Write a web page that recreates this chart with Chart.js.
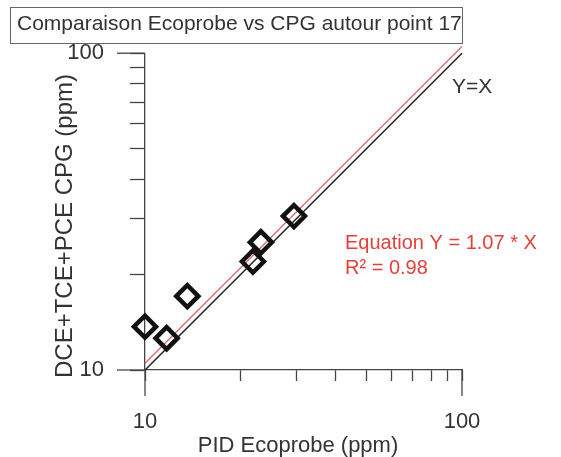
<!DOCTYPE html>
<html>
<head>
<meta charset="utf-8">
<script src="https://cdn.jsdelivr.net/npm/chart.js@4/dist/chart.umd.min.js"></script>
<style>
  html, body { margin: 0; padding: 0; background: #fff; }
  #wrap { width: 561px; height: 457px; }
</style>
</head>
<body>
<div id="wrap"><canvas id="chart" width="561" height="457"></canvas></div>
<script>
'use strict'

// measured points, PID Ecoprobe (x) vs DCE+TCE+PCE CPG (y), ppm
const pidValues = [10.0, 11.7, 13.6, 21.9, 23.2, 29.5]
const cpgValues = [13.7, 12.6, 17.1, 22.0, 25.3, 30.6]

// reference line Y=X and fitted line (as drawn in the picture)
const lineX = [10, 100]
const identityY = [10, 100]
const fitY = [10.5, 105]

// ticks of both log axes
const tickValues = [10, 20, 30, 40, 50, 60, 70, 80, 90, 100]
const majorTicks = [10, 100]
const tickLabels = ['10', '100']

const axisColor = '#444'
const textColor = '#333'
const red = '#e2403a'

const toPoints = (xs, ys) => xs.map((x, i) => ({ x: x, y: ys[i] }))

const setTicks = (scale) => {
  scale.ticks = tickValues.map(v => ({ value: v }))
}

const labelFor = (value) => {
  const i = majorTicks.indexOf(value)
  return i >= 0 ? tickLabels[i] : ''
}

// long major ticks, title box, axis titles and notes
const extras = {
  id: 'extras',
  afterDraw (chart) {
    const ctx = chart.ctx
    const x = chart.scales.x
    const y = chart.scales.y
    const area = chart.chartArea

    ctx.save()
    ctx.strokeStyle = axisColor
    ctx.lineWidth = 1.3
    majorTicks.forEach(v => {
      const px = x.getPixelForValue(v)
      ctx.beginPath()
      ctx.moveTo(px, area.bottom)
      ctx.lineTo(px, area.bottom + 26)
      ctx.stroke()
      const py = y.getPixelForValue(v)
      ctx.beginPath()
      ctx.moveTo(area.left, py)
      ctx.lineTo(area.left - 28, py)
      ctx.stroke()
    })

    // box round the title
    ctx.strokeStyle = '#666'
    ctx.lineWidth = 1
    ctx.strokeRect(10.5, 7.5, 452, 36)

    ctx.fillStyle = textColor
    ctx.font = '22px "Liberation Sans", Arial, sans-serif'
    ctx.textAlign = 'center'
    ctx.textBaseline = 'middle'
    ctx.fillText('PID Ecoprobe (ppm)', 298, 446)

    ctx.save()
    ctx.translate(65, 226)
    ctx.rotate(-Math.PI / 2)
    ctx.font = '24px "Liberation Sans", Arial, sans-serif'
    ctx.fillText('DCE+TCE+PCE CPG (ppm)', 0, 0)
    ctx.restore()

    ctx.textAlign = 'left'
    ctx.font = '21px "Liberation Sans", Arial, sans-serif'
    ctx.fillText('Y=X', 452, 87)

    ctx.fillStyle = red
    ctx.font = '20px "Liberation Sans", Arial, sans-serif'
    ctx.fillText('Equation Y = 1.07 * X', 345, 243)
    ctx.fillText('R\u00b2 = 0.98', 345, 268)
    ctx.restore()
  }
}

const ctx = document.getElementById('chart')
const myChart = new Chart(ctx, {
  type: 'scatter',
  data: {
    datasets: [{
      label: 'mesures',
      data: toPoints(pidValues, cpgValues),
      pointStyle: 'rectRot',
      pointRadius: 11,
      borderWidth: 4.5,
      borderColor: '#111',
      backgroundColor: 'rgba(255,255,255,0)',
      clip: false
    }, {
      label: 'Y=X',
      data: toPoints(lineX, identityY),
      showLine: true,
      pointRadius: 0,
      borderColor: '#222',
      borderWidth: 1.5,
      clip: false
    }, {
      label: 'fit',
      data: toPoints(lineX, fitY),
      showLine: true,
      pointRadius: 0,
      borderColor: '#df6f78',
      borderWidth: 1.5,
      clip: false
    }]
  },
  options: {
    responsive: false,
    animation: false,
    layout: { padding: { left: 17, right: 99, top: 0, bottom: 0 } },
    plugins: {
      legend: { display: false },
      tooltip: { enabled: false },
      title: {
        display: true,
        text: 'Comparaison Ecoprobe vs CPG autour point 17',
        align: 'start',
        color: textColor,
        font: { family: '"Liberation Sans", Arial, sans-serif', size: 21, weight: 'normal' },
        padding: { top: 12, bottom: 16 }
      }
    },
    scales: {
      x: {
        type: 'logarithmic',
        min: 10,
        max: 100,
        afterBuildTicks: setTicks,
        afterFit: (scale) => { scale.height = 87 },
        grid: { drawOnChartArea: false, tickLength: 11, tickColor: axisColor, tickWidth: 1.3 },
        border: { display: true, color: axisColor, width: 1.3 },
        ticks: {
          autoSkip: false,
          maxRotation: 0,
          padding: 28,
          color: textColor,
          font: { family: '"Liberation Sans", Arial, sans-serif', size: 22 },
          callback: labelFor
        }
      },
      y: {
        type: 'logarithmic',
        min: 10,
        max: 100,
        afterBuildTicks: setTicks,
        afterFit: (scale) => { scale.width = 128 },
        grid: { drawOnChartArea: false, tickLength: 15, tickColor: axisColor, tickWidth: 1.3 },
        border: { display: true, color: axisColor, width: 1.3 },
        ticks: {
          autoSkip: false,
          padding: 26,
          color: textColor,
          font: { family: '"Liberation Sans", Arial, sans-serif', size: 22 },
          callback: labelFor
        }
      }
    }
  },
  plugins: [extras]
})
</script>
</body>
</html>
